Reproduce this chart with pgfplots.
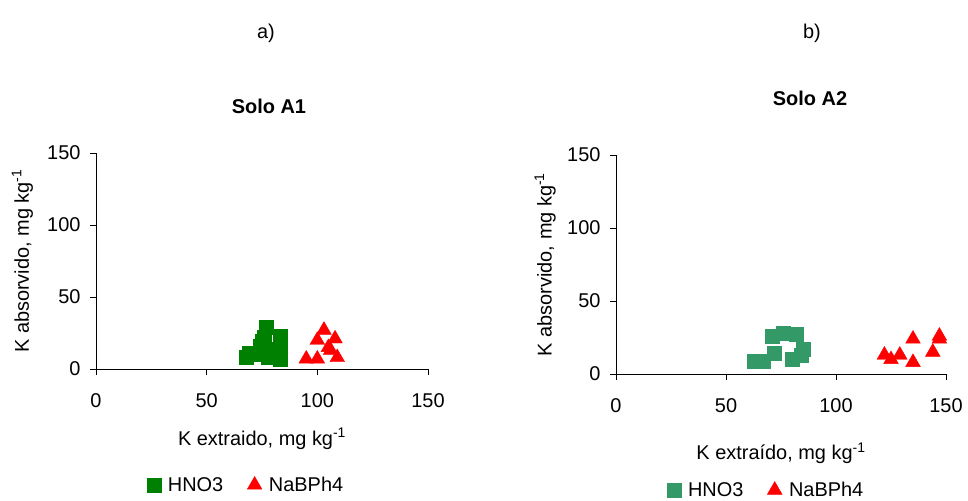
\documentclass[border=0pt]{standalone}
\usepackage{fontspec}
\setmainfont{Liberation Sans}
\usepackage{pgfplots}
\pgfplotsset{compat=1.18}
\definecolor{dgreen}{RGB}{0,128,0}
\definecolor{sgreen}{RGB}{51,153,102}
\pgfplotsset{
 myax/.style={
  scale only axis,
  xmin=0,xmax=150,ymin=0,ymax=150,
  axis lines=left, axis line style={-, black, line width=0.8bp},
  xtick={0,50,100,150}, ytick={0,50,100,150},
  tick align=outside, major tick length=6bp, tick style={black, line width=0.8bp},
  font=\fontsize{20}{24}\selectfont,
  /pgf/number format/assume math mode=true,
  clip=false,
  xticklabel style={anchor=north, yshift=-15bp},
  yticklabel style={anchor=east, xshift=-6bp},
  legend style={draw=none, fill=none, font=\fontsize{20}{24}\selectfont, anchor=center,
    /tikz/every even column/.append style={column sep=22bp},
    /tikz/every odd column/.append style={column sep=5bp}},
  legend columns=2,
  legend cell align=left,
  legend image code/.code={\draw[#1] plot coordinates {(0bp,0bp)};},
 }
}
\begin{document}
\begin{tikzpicture}
\path[use as bounding box] (0bp,0bp) rectangle (968bp,501bp);
\node[font=\fontsize{20}{24}\selectfont] at (266bp,468bp) {a)};
\node[font=\fontsize{20}{24}\selectfont] at (812bp,468bp) {b)};
\node[font=\fontsize{20}{24}\selectfont\bfseries] at (269bp,395bp) {Solo A1};
\node[font=\fontsize{20}{24}\selectfont\bfseries] at (810bp,403bp) {Solo A2};
\begin{axis}[myax, width=332bp, height=216bp, at={(96bp,132bp)}, anchor=south west,
  xlabel={K extraido, mg kg\textsuperscript{-1}},
  ylabel={K absorvido, mg kg\textsuperscript{-1}},
  xlabel style={at={(axis description cs:0.5,-0.324)}, anchor=center},
  ylabel style={at={(axis description cs:-0.222,0.5)}, anchor=center, rotate=0},
  legend style={at={(axis description cs:0.452,-0.537)}},
]
\addplot[only marks, mark=square*, mark size=7bp, color=dgreen] coordinates {
(68,8) (69,11) (73,10) (74,16) (75,19) (76,22) (77,29) (78,8) (80,14) (83,23) (83,15) (83,7)
};
\addlegendentry{HNO3}
\addplot[only marks, mark=triangle*, mark size=8.5bp, color=red] coordinates {
(95,7) (100,7) (100,20) (103,27) (108,21) (106,13) (109,8) (105,15)
};
\addlegendentry{NaBPh4}
\end{axis}
\begin{axis}[myax, width=330bp, height=219bp, at={(616bp,127bp)}, anchor=south west,
  xlabel={K extraído, mg kg\textsuperscript{-1}},
  ylabel={K absorvido, mg kg\textsuperscript{-1}},
  xlabel style={at={(axis description cs:0.5,-0.362)}, anchor=center},
  ylabel style={at={(axis description cs:-0.215,0.5)}, anchor=center, rotate=0},
  legend style={at={(axis description cs:0.455,-0.53)}},
]
\addplot[only marks, mark=square*, mark size=7bp, color=sgreen] coordinates {
(63,9) (67,9) (72,14) (71,26) (76,28) (82,27) (80,10) (85,17) (84,13)
};
\addlegendentry{HNO3}
\addplot[only marks, mark=triangle*, mark size=8.5bp, color=red] coordinates {
(122,13) (125,10) (129,13) (135,24) (135,8) (144,15) (147,26) (147,24)
};
\addlegendentry{NaBPh4}
\end{axis}
\end{tikzpicture}
\end{document}
